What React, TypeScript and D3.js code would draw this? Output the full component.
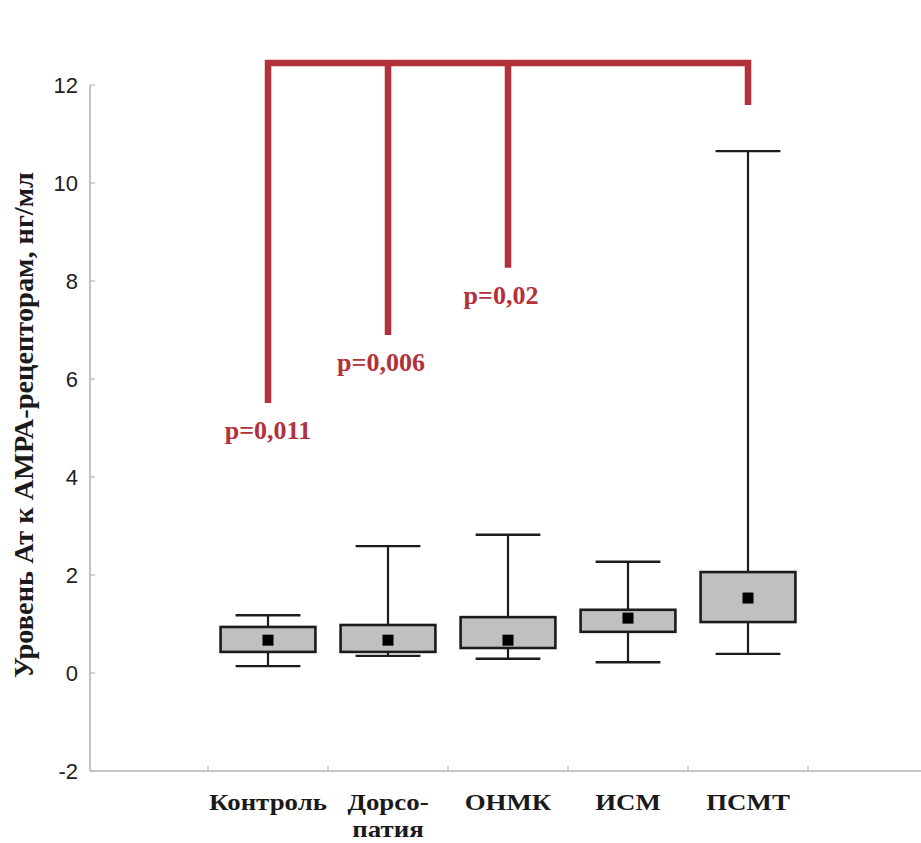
import React from "react";
import * as d3 from "d3";

// Group names and their axis labels (second name wraps onto two lines)
const categories = ["Контроль", "Дорсопатия", "ОНМК", "ИСМ", "ПСМТ"];
const categoryLabelLines = [["Контроль"], ["Дорсо-", "патия"], ["ОНМК"], ["ИСМ"], ["ПСМТ"]];

// Box-plot statistics per group, ng/ml
const whiskerLow = [0.14, 0.35, 0.29, 0.22, 0.39];
const boxLow = [0.43, 0.43, 0.51, 0.84, 1.04];
const boxHigh = [0.94, 0.98, 1.14, 1.29, 2.06];
const whiskerHigh = [1.18, 2.59, 2.82, 2.27, 10.65];
const centerValues = [0.67, 0.67, 0.67, 1.12, 1.53];

const yTicks = [-2, 0, 2, 4, 6, 8, 10, 12];

// Significance bracket: each group below is compared with ПСМТ
const bracketLevel = 12.45;
const bracketTarget = "ПСМТ";
const bracketTargetEnd = 11.59;
const comparedGroups = ["Контроль", "Дорсопатия", "ОНМК"];
const comparedEnds = [5.51, 6.9, 8.27];
const pLabels = ["p=0,011", "p=0,006", "p=0,02"];

const yTitle = "Уровень Ат к АМРА-рецепторам, нг/мл";

const W = 921;
const H = 843;
const AXIS = "#b4b4b4";
const RED = "#b3313b";
const INK = "#1c1c1c";
const SERIF = "'Liberation Serif', 'Times New Roman', serif";
const SANS = "'Liberation Sans', Arial, sans-serif";

export default function App() {
  const x = d3
    .scaleBand<string>()
    .domain(["_left", ...categories, "_right"])
    .range([88, 928])
    .padding(0);
  const y = d3.scaleLinear().domain([-2, 12]).range([771, 85]);

  const bw = x.bandwidth();
  const cx = (c: string) => (x(c) as number) + bw / 2;
  const boxW = bw * 0.79;
  const capW = bw * 0.54;
  const marker = 11;
  const axisX = 90;

  const boundaries = [...categories.map((c) => x(c) as number), x("_right") as number];

  const topY = y(bracketLevel);
  const firstX = cx(comparedGroups[0]);
  const targetX = cx(bracketTarget);

  return (
    <svg
      width={W}
      height={H}
      viewBox={`0 0 ${W} ${H}`}
      style={{ position: "absolute", left: 0, top: 0, background: "#fff" }}
    >
      {/* y axis */}
      <line x1={axisX} x2={axisX} y1={y(12)} y2={y(-2)} stroke={AXIS} strokeWidth={1.6} />
      {yTicks.map((t) => (
        <g key={t}>
          <line x1={axisX} x2={axisX + 5} y1={y(t)} y2={y(t)} stroke={AXIS} strokeWidth={1.2} />
          <text
            x={78}
            y={y(t)}
            textAnchor="end"
            dominantBaseline="central"
            fontFamily={SANS}
            fontSize={22}
            fill="#222"
          >
            {t}
          </text>
        </g>
      ))}

      {/* x axis */}
      <line x1={axisX} x2={W} y1={y(-2)} y2={y(-2)} stroke={AXIS} strokeWidth={1.6} />
      {boundaries.map((b, i) => (
        <line key={i} x1={b} x2={b} y1={y(-2)} y2={y(-2) - 5} stroke={AXIS} strokeWidth={1.2} />
      ))}

      {/* category labels */}
      {categories.map((c, i) =>
        categoryLabelLines[i].map((line, j) => (
          <text
            key={`${c}-${j}`}
            transform={`translate(${cx(c)}, ${810 + j * 27}) scale(1.12, 1)`}
            textAnchor="middle"
            fontFamily={SERIF}
            fontWeight="bold"
            fontSize={24}
            fill="#1a1a1a"
          >
            {line}
          </text>
        ))
      )}

      {/* y axis title */}
      <text
        transform={`translate(33, ${(172 + 678) / 2}) rotate(-90)`}
        textAnchor="middle"
        fontFamily={SERIF}
        fontWeight="bold"
        fontSize={27}
        fill="#1a1a1a"
        textLength={506}
        lengthAdjust="spacingAndGlyphs"
      >
        {yTitle}
      </text>

      {/* boxes */}
      {categories.map((c, i) => {
        const m = cx(c);
        return (
          <g key={c}>
            <line x1={m} x2={m} y1={y(whiskerHigh[i])} y2={y(boxHigh[i])} stroke={INK} strokeWidth={2.2} />
            <line x1={m} x2={m} y1={y(boxLow[i])} y2={y(whiskerLow[i])} stroke={INK} strokeWidth={2.2} />
            <line
              x1={m - capW / 2}
              x2={m + capW / 2}
              y1={y(whiskerHigh[i])}
              y2={y(whiskerHigh[i])}
              stroke={INK}
              strokeWidth={2.4}
            />
            <line
              x1={m - capW / 2}
              x2={m + capW / 2}
              y1={y(whiskerLow[i])}
              y2={y(whiskerLow[i])}
              stroke={INK}
              strokeWidth={2.4}
            />
            <rect
              x={m - boxW / 2}
              y={y(boxHigh[i])}
              width={boxW}
              height={y(boxLow[i]) - y(boxHigh[i])}
              fill="#c0c0c0"
              stroke={INK}
              strokeWidth={2.6}
            />
            <rect
              x={m - marker / 2}
              y={y(centerValues[i]) - marker / 2}
              width={marker}
              height={marker}
              fill="#000"
            />
          </g>
        );
      })}

      {/* significance bracket */}
      <path
        d={`M${firstX},${y(comparedEnds[0])} V${topY} H${targetX} V${y(bracketTargetEnd)}`}
        fill="none"
        stroke={RED}
        strokeWidth={6.5}
        strokeLinejoin="miter"
      />
      {comparedGroups.slice(1).map((g, i) => (
        <line
          key={g}
          x1={cx(g)}
          x2={cx(g)}
          y1={topY}
          y2={y(comparedEnds[i + 1])}
          stroke={RED}
          strokeWidth={6.5}
        />
      ))}
      {comparedGroups.map((g, i) => (
        <text
          key={g}
          x={cx(g) - (i === 0 ? 0 : 7)}
          y={y(comparedEnds[i]) + 36}
          textAnchor="middle"
          fontFamily={SERIF}
          fontWeight="bold"
          fontSize={26}
          fill={RED}
        >
          {pLabels[i]}
        </text>
      ))}
    </svg>
  );
}
